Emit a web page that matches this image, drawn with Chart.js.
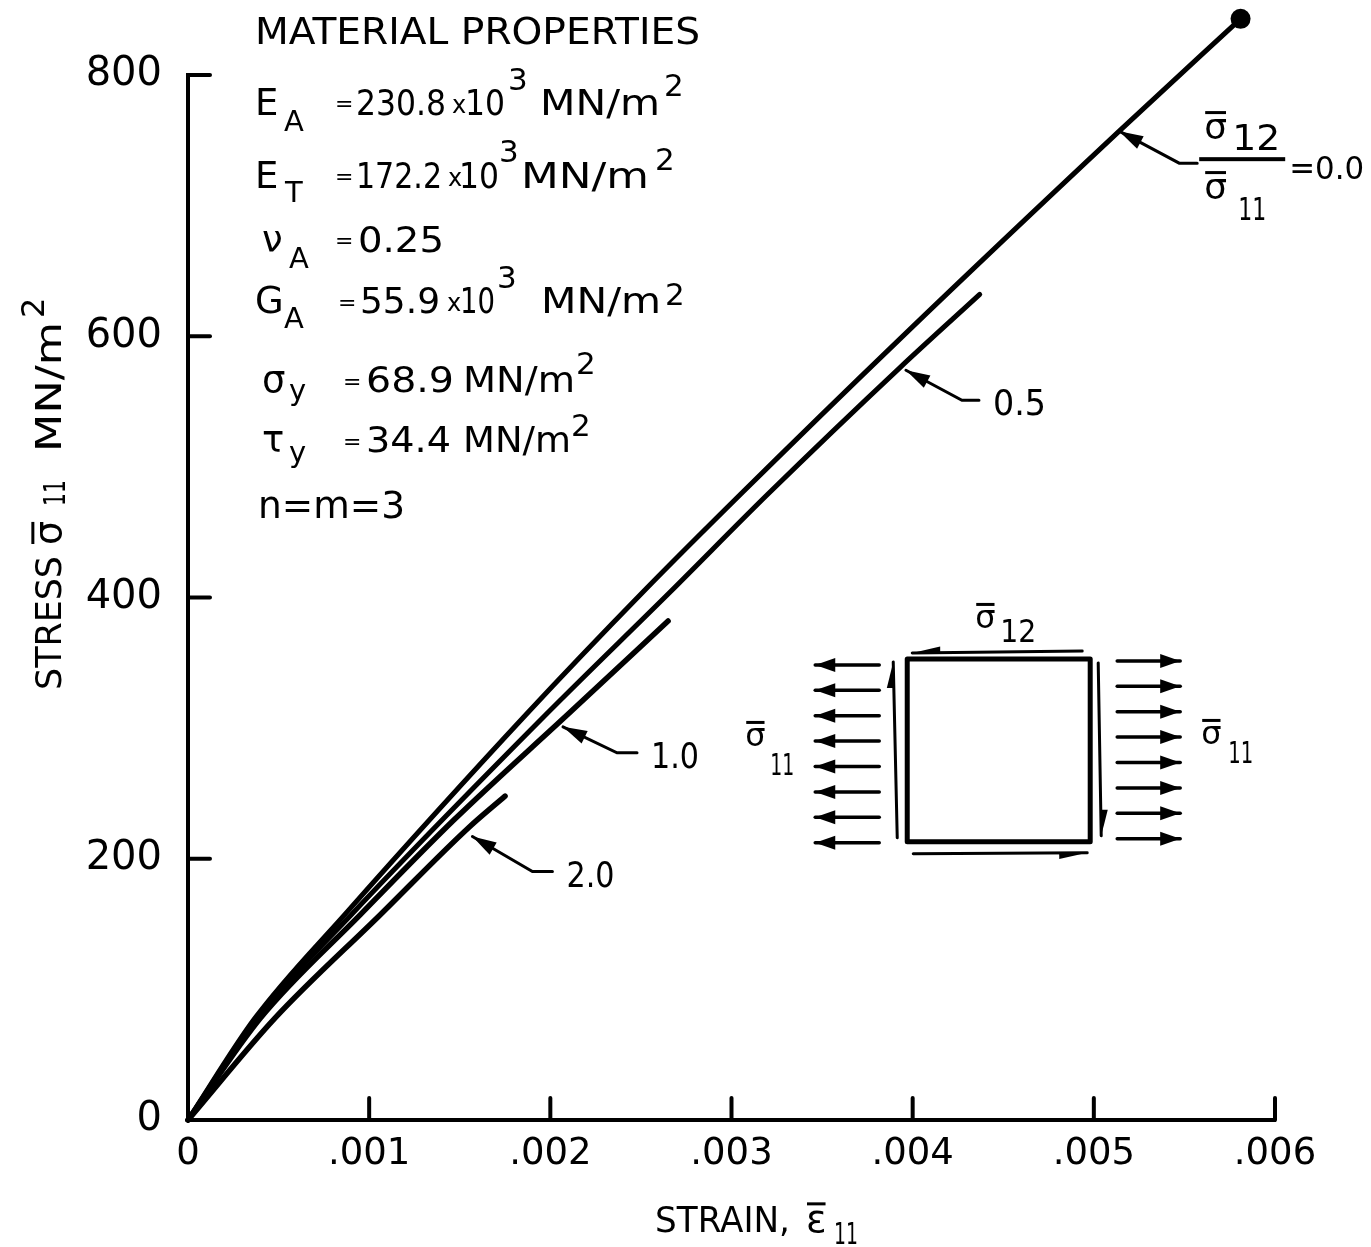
<!DOCTYPE html>
<html>
<head>
<meta charset="utf-8">
<script src="https://cdn.jsdelivr.net/npm/chart.js@4.4.1/dist/chart.umd.min.js"></script>
<style>
  html, body { margin: 0; padding: 0; background: #fff; }
</style>
</head>
<body>
<canvas id="grafico" width="1371" height="1247"></canvas>
<script>
// sigma12 / sigma11 ratio of each curve
const razoes = ['0.0', '0.5', '1.0', '2.0']

// strain / stress (MN/m2)
const strain00 = [0, 0.00037, 0.00087, 0.00187, 0.00251, 0.00305, 0.00393, 0.00514, 0.00581]
const stress00 = [0, 78, 158, 311, 404, 479, 598, 757, 843]
const strain05 = [0, 0.00038, 0.0009, 0.00198, 0.00266, 0.0032, 0.00393, 0.00437]
const stress05 = [0, 78, 157, 311, 404, 479, 576, 632]
const strain10 = [0, 0.0004, 0.00095, 0.00147, 0.0021, 0.00265]
const stress10 = [0, 78, 157, 230, 311, 382]
const strain20 = [0, 0.00048, 0.00106, 0.00155, 0.00175]
const stress20 = [0, 78, 157, 224, 248]

// axis ticks
const ticksStrain = [0, 0.001, 0.002, 0.003, 0.004, 0.005, 0.006]
const ticksStress = [0, 200, 400, 600, 800]

// where the label arrows touch the curves
const setaStrain = [0.00514, 0.003963, 0.00207, 0.00157]
const setaStress = [757, 574, 301, 217]

// stress element sketch, placed in data units
const caixaStrain = [0.00397, 0.00498]
const caixaStress = [213, 353]

const fonte = '"DejaVu Sans"'
const curvas = [[strain00, stress00], [strain05, stress05], [strain10, stress10], [strain20, stress20]]

function formataStrain(v) {
    if (v === 0) return '0'
    return '.' + String(Math.round(v * 1000)).padStart(3, '0')
}

// text parts: [text, x, baseline, size, overbar, width]
function escreve(ctx, partes) {
    partes.forEach(([t, x, y, tam, barra, larg]) => {
        ctx.font = tam + 'px ' + fonte
        const w = ctx.measureText(t).width
        const sx = larg ? larg / w : 1
        ctx.save()
        ctx.translate(x, y)
        ctx.scale(sx, 1)
        ctx.fillText(t, 0, 0)
        if (barra) ctx.fillRect(1, -tam * 0.78, w - 2, 3)
        ctx.restore()
    })
}

function ponta(ctx, de, para, comp, larg, lado) {
    const dx = para[0] - de[0], dy = para[1] - de[1], d = Math.hypot(dx, dy)
    const ux = dx / d, uy = dy / d, nx = -uy, ny = ux
    const bx = para[0] - ux * comp, by = para[1] - uy * comp
    ctx.beginPath()
    ctx.moveTo(para[0], para[1])
    if (lado === 0) {
        ctx.lineTo(bx + nx * larg, by + ny * larg)
        ctx.lineTo(bx - nx * larg, by - ny * larg)
    } else {
        ctx.lineTo(bx + nx * larg * lado, by + ny * larg * lado)
        ctx.lineTo(bx, by)
    }
    ctx.closePath()
    ctx.fill()
}

function seta(ctx, pts, comp, larg, lado) {
    ctx.beginPath()
    ctx.moveTo(pts[0][0], pts[0][1])
    for (let i = 1; i < pts.length; i++) ctx.lineTo(pts[i][0], pts[i][1])
    ctx.stroke()
    ponta(ctx, pts[pts.length - 2], pts[pts.length - 1], comp, larg, lado)
}

const desenhos = {
    id: 'desenhos',
    afterDraw(chart) {
        const ctx = chart.ctx
        const x = chart.scales.x, y = chart.scales.y
        ctx.save()
        ctx.fillStyle = '#000'
        ctx.strokeStyle = '#000'
        ctx.lineCap = 'round'
        ctx.textBaseline = 'alphabetic'
        ctx.textAlign = 'left'

        // end point of the 0.0 curve (outside the chart area)
        const n = strain00.length - 1
        ctx.beginPath()
        ctx.arc(x.getPixelForValue(strain00[n]), y.getPixelForValue(stress00[n]), 10, 0, Math.PI * 2)
        ctx.fill()

        // inward tick marks
        ctx.lineWidth = 4
        ticksStrain.forEach(v => {
            if (v === 0) return
            const px = x.getPixelForValue(v)
            ctx.beginPath(); ctx.moveTo(px, y.bottom); ctx.lineTo(px, y.bottom - 22); ctx.stroke()
        })
        ticksStress.forEach(v => {
            if (v === 0) return
            const py = y.getPixelForValue(v)
            ctx.beginPath(); ctx.moveTo(x.left, py); ctx.lineTo(x.left + 22, py); ctx.stroke()
        })

        // axis titles
        escreve(ctx, [['STRAIN,', 655, 1232, 35, false, 135], ['ε', 806, 1232, 38, true], ['11', 834, 1244, 30, false, 24]])
        ctx.save()
        ctx.rotate(-Math.PI / 2)
        escreve(ctx, [['STRESS', -690, 61, 35, false, 134], ['σ', -545, 61, 38, true], ['11', -506, 65, 30, false, 26],
            ['MN/m', -452, 61, 36, false, 130], ['2', -318, 44, 32]])
        ctx.restore()

        // material properties
        escreve(ctx, [
            ['MATERIAL PROPERTIES', 255, 44, 37, false, 445],
            ['E', 255, 115, 37], ['A', 284, 131, 29], ['=', 335, 111, 22], ['230.8', 356, 115, 35, false, 90],
            ['x', 452, 113, 24], ['10', 465, 115, 35, false, 40], ['3', 508, 90, 31], ['MN/m', 540, 115, 35, false, 120], ['2', 664, 96, 31],
            ['E', 255, 188, 37], ['T', 285, 202, 29], ['=', 335, 184, 22], ['172.2', 356, 188, 35, false, 86],
            ['x', 448, 186, 24], ['10', 459, 188, 35, false, 40], ['3', 499, 162, 31], ['MN/m', 521, 188, 35, false, 128], ['2', 655, 170, 31],
            ['ν', 262, 252, 37], ['A', 289, 268, 29], ['=', 335, 248, 22], ['0.25', 358, 252, 35, false, 86],
            ['G', 255, 313, 37], ['A', 284, 328, 29], ['=', 338, 310, 22], ['55.9', 360, 313, 35, false, 80],
            ['x', 447, 311, 24], ['10', 460, 313, 35, false, 35], ['3', 497, 288, 31], ['MN/m', 541, 313, 35, false, 120], ['2', 665, 305, 31],
            ['σ', 262, 392, 37], ['y', 289, 400, 29], ['=', 343, 389, 22], ['68.9', 366, 392, 35, false, 88],
            ['MN/m', 463, 392, 35, false, 112], ['2', 576, 374, 31],
            ['τ', 262, 452, 37], ['y', 289, 462, 29], ['=', 343, 449, 22], ['34.4', 366, 452, 35, false, 85],
            ['MN/m', 463, 452, 35, false, 108], ['2', 571, 436, 31],
            ['n=m=3', 258, 518, 37, false, 147]
        ])

        // label arrows
        ctx.lineWidth = 3
        const dobras = [[60, 32, 78, 32], [56, 30, 73, 30], [54, 26, 74, 26], [60, 35, 80, 35]]
        setaStrain.forEach((s, i) => {
            const tx = x.getPixelForValue(s), ty = y.getPixelForValue(setaStress[i])
            const d = dobras[i]
            seta(ctx, [[tx + d[2], ty + d[3]], [tx + d[0], ty + d[1]], [tx, ty]], 24, 7, 0)
            if (i === 0) {
                escreve(ctx, [['σ', tx + 85, ty + 8, 36, true], ['12', tx + 113, ty + 19, 36, false, 48],
                    ['σ', tx + 85, ty + 68, 36, true], ['11', tx + 119, ty + 89, 32, false, 28], ['=0.0', tx + 170, ty + 48, 32, false, 75]])
                ctx.fillRect(tx + 80, ty + 26, 86, 4)
            } else {
                escreve(ctx, [[razoes[i], tx + d[2] + 14, ty + d[3] + 15, 35, false, razoes[i] === '0.5' ? 53 : 48]])
            }
        })

        // stress element sketch
        const x1 = x.getPixelForValue(caixaStrain[0]), x2 = x.getPixelForValue(caixaStrain[1])
        const y1 = y.getPixelForValue(caixaStress[1]), y2 = y.getPixelForValue(caixaStress[0])
        ctx.lineWidth = 5
        ctx.lineJoin = 'round'
        ctx.strokeRect(x1, y1, x2 - x1, y2 - y1)
        ctx.lineWidth = 3.5
        for (let k = 0; k < 8; k++) {
            const yl = y1 + 6 + k * 25.4, yr = y1 + 2 + k * 25.4
            seta(ctx, [[x1 - 28, yl], [x1 - 92, yl]], 20, 7, 0)
            seta(ctx, [[x2 + 27, yr], [x2 + 90, yr]], 20, 7, 0)
        }
        ctx.lineWidth = 3
        seta(ctx, [[x2 - 8, y1 - 8], [x1 + 5, y1 - 6]], 28, 6, 1)
        seta(ctx, [[x1 + 6, y2 + 12], [x2 - 3, y2 + 11]], 28, 6, 1)
        seta(ctx, [[x1 - 10, y2 - 4], [x1 - 14, y1 + 3]], 26, 7, -1)
        seta(ctx, [[x2 + 8, y1 + 4], [x2 + 11, y2 - 6]], 26, 7, -1)
        escreve(ctx, [
            ['σ', x1 + 68, y1 - 31, 32, true], ['12', x1 + 93, y1 - 17, 32, false, 36],
            ['σ', x2 + 111, y1 + 85, 32, true], ['11', x2 + 138, y1 + 104, 30, false, 25],
            ['σ', x1 - 162, y1 + 87, 32, true], ['11', x1 - 137, y1 + 116, 30, false, 24]
        ])
        ctx.restore()
    }
}

const graficoTensao = new Chart(document.getElementById('grafico'), {
    type: 'scatter',
    data: {
        datasets: curvas.map(([xs, ys], i) => ({
            label: razoes[i],
            data: xs.map((v, k) => ({ x: v, y: ys[k] })),
            showLine: true,
            borderColor: '#000',
            backgroundColor: '#000',
            borderWidth: i < 2 ? 5 : 5.5,
            borderCapStyle: 'round',
            cubicInterpolationMode: 'monotone',
            clip: false,
            pointRadius: 0,
            pointHoverRadius: 0
        }))
    },
    options: {
        responsive: false,
        animation: false,
        layout: { padding: { top: 75, right: 96, left: 0, bottom: 0 } },
        plugins: { legend: { display: false }, tooltip: { enabled: false } },
        scales: {
            x: {
                type: 'linear', min: 0, max: 0.006,
                afterFit(s) { s.height = 127 },
                afterBuildTicks(s) { s.ticks = ticksStrain.map(v => ({ value: v })) },
                grid: { display: false },
                border: { display: true, color: '#000', width: 4 },
                ticks: {
                    padding: 4, color: '#000', maxRotation: 0, autoSkip: false,
                    font: { family: 'DejaVu Sans', size: 37 },
                    callback: v => formataStrain(v)
                }
            },
            y: {
                min: 0, max: 800,
                afterFit(s) { s.width = 188 },
                afterBuildTicks(s) { s.ticks = ticksStress.map(v => ({ value: v })) },
                grid: { display: false },
                border: { display: true, color: '#000', width: 4 },
                ticks: {
                    padding: 18, color: '#000',
                    font: { family: 'DejaVu Sans', size: 40 }
                }
            }
        }
    },
    plugins: [desenhos]
})
</script>
</body>
</html>
